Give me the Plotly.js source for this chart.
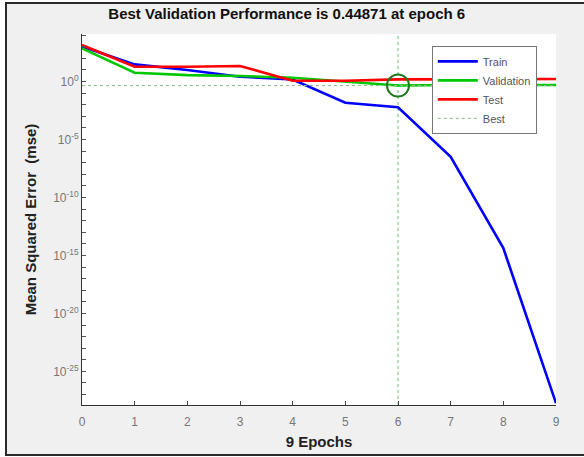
<!DOCTYPE html>
<html>
<head>
<meta charset="utf-8">
<script src="https://cdn.plot.ly/plotly-3.0.1.min.js"></script>
<style>
  html, body { margin: 0; padding: 0; background: #ffffff; width: 584px; height: 457px; overflow: hidden; }
  #frame { position: absolute; left: 5px; top: 2px; width: 590px; height: 450px; border: 2px solid #2a2a2a; background: #f0f0f0; box-sizing: content-box; }
  #chart { position: absolute; left: 0; top: 0; width: 584px; height: 457px; }
</style>
</head>
<body>
<div id="frame"></div>
<div id="chart"></div>
<script>
// ---- data ----
var epochs = [0, 1, 2, 3, 4, 5, 6, 7, 8, 9];
var trainMSE = [1050, 30, 10, 2.6, 1.5, 0.015, 0.006, 3.2e-7, 4.3e-15, 1.8e-28];
var validationMSE = [730, 5.7, 3.6, 3.0, 2.1, 0.95, 0.44871, 0.5, 0.5, 0.5];
var testMSE = [1400, 19, 19, 22, 1.17, 1.17, 1.55, 1.65, 1.65, 1.65];
var bestEpoch = 6;
var bestPerf = 0.44871;
var yLabelExps = [0, -5, -10, -15, -20, -25];
var yLabelText = ['10<sup>0</sup>', '10<sup>-5</sup>', '10<sup>-10</sup>', '10<sup>-15</sup>', '10<sup>-20</sup>', '10<sup>-25</sup>'];
var xTickVals = epochs;

// a tick at every decade; labels only at the labelled decades
var yTickVals = [], yTickText = [];
for (var d = 4; d >= -27; d--) {
  yTickVals.push(Math.pow(10, d));
  var k = yLabelExps.indexOf(d);
  yTickText.push(k >= 0 ? yLabelText[k] : '');
}

var font = 'Liberation Sans, Arial, sans-serif';
var bestColor = '#66c266';

var traces = [
  { x: epochs, y: trainMSE, name: 'Train', mode: 'lines', line: { color: '#0000ff', width: 2.6 } },
  { x: epochs, y: validationMSE, name: 'Validation', mode: 'lines', line: { color: '#00c800', width: 2.6 } },
  { x: epochs, y: testMSE, name: 'Test', mode: 'lines', line: { color: '#ff0000', width: 2.6 } },
  { x: [epochs[0], epochs[epochs.length - 1]], y: [bestPerf, bestPerf], name: 'Best', mode: 'lines',
    line: { color: '#88b888', width: 1, dash: 'dot' } },
  { x: [bestEpoch], y: [bestPerf], mode: 'markers', showlegend: false,
    marker: { symbol: 'circle-open', size: 22, color: '#1e7a1e', line: { width: 2, color: '#1e7a1e' } } }
];

var layout = {
  width: 584, height: 457,
  margin: { l: 82, r: 28, t: 34, b: 52 },
  paper_bgcolor: 'rgba(0,0,0,0)',
  plot_bgcolor: '#ffffff',
  font: { family: font, size: 12, color: '#666666' },
  title: { text: 'Best Validation Performance is 0.44871 at epoch 6',
    font: { family: font, size: 15, color: '#111111', weight: 'bold' },
    xref: 'container', x: 0.491, xanchor: 'center', yref: 'container', y: 1 - 14 / 457, yanchor: 'middle' },
  xaxis: {
    range: [0, 9], tickmode: 'array', tickvals: xTickVals,
    ticks: 'inside', ticklen: 4, tickcolor: '#444', showgrid: false, zeroline: false,
    showline: true, linecolor: '#333', linewidth: 1, mirror: false,
    tickfont: { family: font, size: 12, color: '#777' }, ticklabelstandoff: 6,
    title: { text: '9 Epochs', font: { family: font, size: 15, color: '#222', weight: 'bold' }, standoff: 8 }
  },
  yaxis: {
    type: 'log', range: [-27.9, 4.1], tickmode: 'array', tickvals: yTickVals, ticktext: yTickText,
    ticks: 'inside', ticklen: 4, tickcolor: '#555', showgrid: false, zeroline: false,
    showline: true, linecolor: '#333', linewidth: 1,
    tickfont: { family: font, size: 12, color: '#777' },
    title: { text: 'Mean Squared Error  (mse)', font: { family: font, size: 15, color: '#222', weight: 'bold' }, standoff: 12 }
  },
  shapes: [
    { type: 'line', xref: 'x', yref: 'paper', x0: bestEpoch, x1: bestEpoch, y0: 0, y1: 1,
      line: { color: bestColor, width: 1, dash: 'dot' }, layer: 'below' }
  ],
  legend: {
    x: 0.738, y: 0.968, xanchor: 'left', yanchor: 'top',
    bgcolor: '#ffffff', bordercolor: '#777777', borderwidth: 1,
    font: { family: font, size: 11, color: '#555' },
    tracegroupgap: 0, itemwidth: 40
  },
  showlegend: true
};

Plotly.newPlot('chart', traces, layout, { displayModeBar: false, staticPlot: true });
</script>
</body>
</html>
